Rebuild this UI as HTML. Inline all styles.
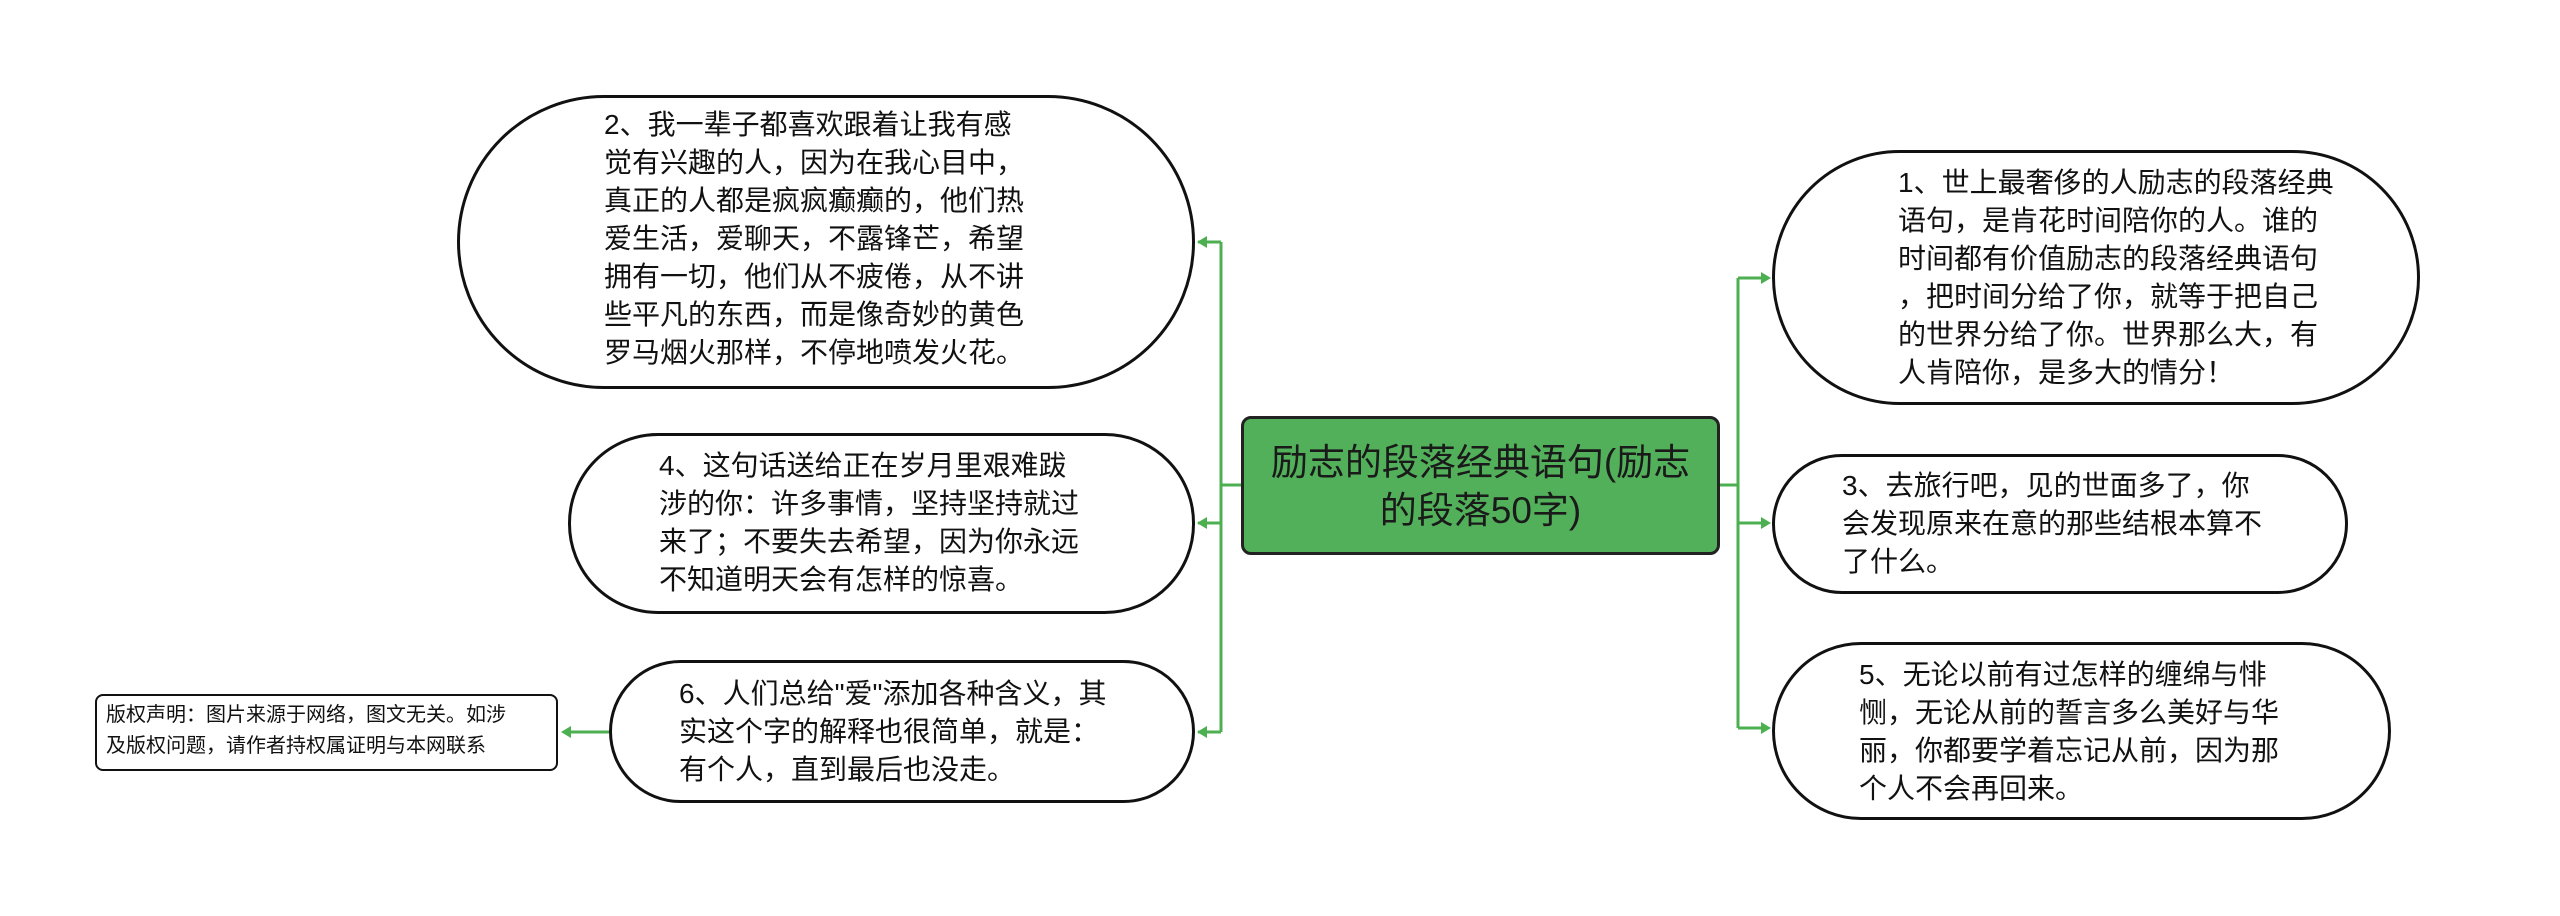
<!DOCTYPE html>
<html><head><meta charset="utf-8"><style>
html,body{margin:0;padding:0;background:#fff;}
body{width:2560px;height:916px;position:relative;overflow:hidden;font-family:"Liberation Sans","Noto Sans CJK SC",sans-serif;color:#111;}
.n{position:absolute;box-sizing:border-box;border:3px solid #111;background:#fff;}
.t{position:absolute;font-size:28px;line-height:38px;white-space:nowrap;}
</style></head><body>
<svg width="2560" height="916" style="position:absolute;left:0;top:0" xmlns="http://www.w3.org/2000/svg">
<g stroke="#4caf50" stroke-width="3" fill="none">
<path d="M1241 485 H1221 M1221 242 V732"/>
<path d="M1221 242 H1198 M1221 523 H1198 M1221 732 H1198"/>
<path d="M609 732 H563"/>
<path d="M1720 485 H1738 M1738 278 V728"/>
<path d="M1738 278 H1768 M1738 523 H1768 M1738 728 H1768"/>
</g>
<g fill="#4caf50">
<path d="M1197 242 l10 -6 v12 z"/><path d="M1197 523 l10 -6 v12 z"/><path d="M1197 732 l10 -6 v12 z"/>
<path d="M561 732 l10 -6 v12 z"/>
<path d="M1771 278 l-10 -6 v12 z"/><path d="M1771 523 l-10 -6 v12 z"/><path d="M1771 728 l-10 -6 v12 z"/>
</g>
</svg>

<div class="n" style="left:457px;top:95px;width:738px;height:294px;border-radius:147px/147px"></div>
<div class="t" style="left:604px;top:106px">2、我一辈子都喜欢跟着让我有感<br>觉有兴趣的人，因为在我心目中，<br>真正的人都是疯疯癫癫的，他们热<br>爱生活，爱聊天，不露锋芒，希望<br>拥有一切，他们从不疲倦，从不讲<br>些平凡的东西，而是像奇妙的黄色<br>罗马烟火那样，不停地喷发火花。</div>

<div class="n" style="left:568px;top:433px;width:627px;height:181px;border-radius:90px"></div>
<div class="t" style="left:659px;top:447px">4、这句话送给正在岁月里艰难跋<br>涉的你：许多事情，坚持坚持就过<br>来了；不要失去希望，因为你永远<br>不知道明天会有怎样的惊喜。</div>

<div class="n" style="left:609px;top:660px;width:586px;height:143px;border-radius:72px"></div>
<div class="t" style="left:679px;top:675px">6、人们总给"爱"添加各种含义，其<br>实这个字的解释也很简单，就是：<br>有个人，直到最后也没走。</div>

<div class="n" style="left:95px;top:694px;width:463px;height:77px;border-radius:8px;border-width:2px"></div>
<div class="t" style="left:106px;top:700px;font-size:20px;line-height:31px">版权声明：图片来源于网络，图文无关。如涉<br>及版权问题，请作者持权属证明与本网联系</div>

<div class="n" style="left:1241px;top:416px;width:479px;height:139px;border-radius:10px;background:#52b05a;border-color:#222"></div>
<div class="t" style="left:1241px;top:439px;width:479px;text-align:center;font-size:37px;line-height:48px;color:#1a1a1a">励志的段落经典语句(励志<br>的段落50字)</div>

<div class="n" style="left:1772px;top:150px;width:648px;height:255px;border-radius:128px"></div>
<div class="t" style="left:1898px;top:164px">1、世上最奢侈的人励志的段落经典<br>语句，是肯花时间陪你的人。谁的<br>时间都有价值励志的段落经典语句<br>，把时间分给了你，就等于把自己<br>的世界分给了你。世界那么大，有<br>人肯陪你，是多大的情分！</div>

<div class="n" style="left:1772px;top:454px;width:576px;height:140px;border-radius:70px"></div>
<div class="t" style="left:1842px;top:467px">3、去旅行吧，见的世面多了，你<br>会发现原来在意的那些结根本算不<br>了什么。</div>

<div class="n" style="left:1772px;top:642px;width:619px;height:178px;border-radius:89px"></div>
<div class="t" style="left:1859px;top:656px">5、无论以前有过怎样的缠绵与悱<br>恻，无论从前的誓言多么美好与华<br>丽，你都要学着忘记从前，因为那<br>个人不会再回来。</div>
</body></html>
